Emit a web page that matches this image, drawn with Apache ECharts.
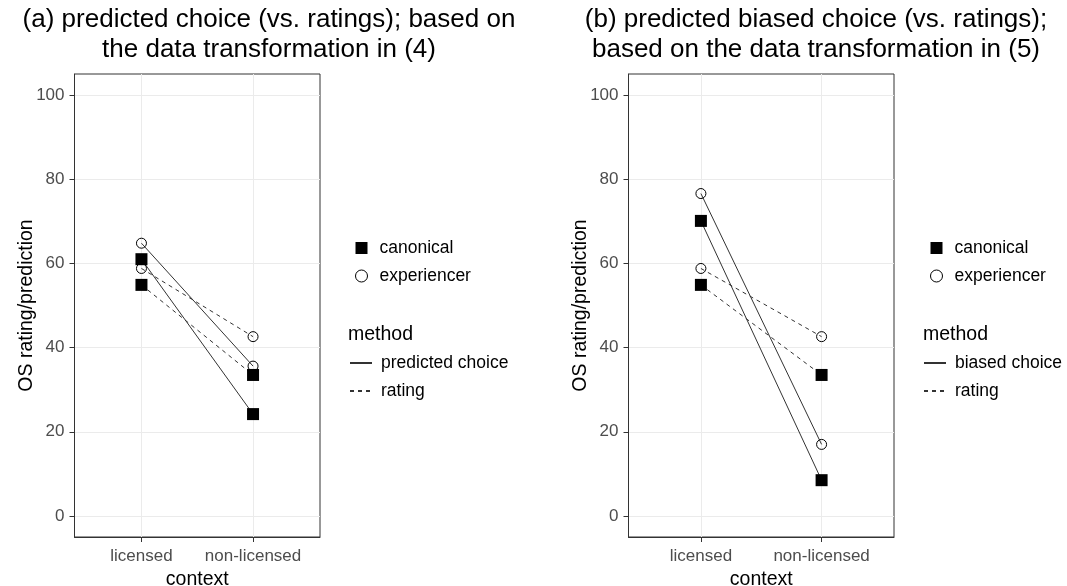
<!DOCTYPE html>
<html>
<head>
<meta charset="utf-8">
<script src="https://cdn.jsdelivr.net/npm/echarts@6/dist/echarts.min.js"></script>
<style>
  html, body { margin: 0; padding: 0; background: #fff; }
  #main { width: 1067px; height: 586px; }
</style>
</head>
<body>
<div id="main"></div>
<script>
// x categories and y ticks
var contexts = ['licensed', 'non-licensed'];
var yTicks = [0, 20, 40, 60, 80, 100];

// rating values (same in both panels)
var ratingCanonical = [54.9, 33.5];
var ratingExperiencer = [58.8, 42.6];

// (a) predicted choice
var predCanonical = [61.0, 24.2];
var predExperiencer = [64.8, 35.6];

// (b) predicted biased choice
var biasedCanonical = [70.1, 8.5];
var biasedExperiencer = [76.6, 17.0];

var font = 'Liberation Sans, Arial, sans-serif';

function pairs(values) {
    var out = [];
    for (var i = 0; i < values.length; i++) {
        out.push([i, values[i]]);
    }
    return out;
}

function xAxisFor(gridIndex) {
    return {
        type: 'value',
        gridIndex: gridIndex,
        min: -0.6,
        max: 1.6,
        name: 'context',
        nameLocation: 'middle',
        nameGap: 33,
        nameMoveOverlap: false,
        nameTextStyle: { fontSize: 19.5, color: '#000', fontFamily: font },
        axisLine: { show: true, onZero: false, lineStyle: { color: '#333', width: 1 } },
        axisTick: { show: true, length: 5, customValues: [0, 1], lineStyle: { color: '#333' } },
        axisLabel: {
            customValues: [0, 1],
            margin: 11,
            fontSize: 17,
            color: '#4d4d4d',
            fontFamily: font,
            formatter: function (v) { return contexts[Math.round(v)]; }
        },
        splitLine: { show: true, lineStyle: { color: '#ebebeb', width: 1 } }
    };
}

function yAxisFor(gridIndex) {
    return {
        type: 'value',
        gridIndex: gridIndex,
        min: -5,
        max: 105,
        name: 'OS rating/prediction',
        nameLocation: 'middle',
        nameGap: 38,
        nameMoveOverlap: false,
        nameTextStyle: { fontSize: 19.5, color: '#000', fontFamily: font },
        axisLine: { show: true, onZero: false, lineStyle: { color: '#333', width: 1 } },
        axisTick: { show: true, length: 5, customValues: yTicks, lineStyle: { color: '#333' } },
        axisLabel: { customValues: yTicks, margin: 10, fontSize: 17, color: '#4d4d4d', fontFamily: font },
        splitLine: { show: true, lineStyle: { color: '#ebebeb', width: 1 } }
    };
}

function lineSeries(name, values, idx, dashed) {
    return {
        name: name,
        type: 'line',
        xAxisIndex: idx,
        yAxisIndex: idx,
        data: pairs(values),
        symbol: 'none',
        color: '#333',
        lineStyle: { color: '#333', width: 1, type: dashed ? [4, 4] : 'solid' },
        z: 2
    };
}

function pointSeries(name, a, b, idx) {
    var isCanon = name === 'canonical';
    return {
        name: name,
        type: 'scatter',
        xAxisIndex: idx,
        yAxisIndex: idx,
        data: pairs(a).concat(pairs(b)),
        symbol: isCanon ? 'rect' : 'circle',
        symbolSize: isCanon ? 12 : 10,
        itemStyle: isCanon
            ? { color: '#000', opacity: 1 }
            : { color: 'rgba(0,0,0,0)', borderColor: '#000', borderWidth: 1, opacity: 1 },
        z: 3
    };
}

function shapeLegend(left) {
    return {
        orient: 'vertical',
        left: left,
        top: 239,
        padding: 0,
        itemWidth: 12,
        itemHeight: 12,
        itemGap: 10,
        data: [
            { name: 'canonical', itemStyle: { color: '#000', opacity: 1 } },
            { name: 'experiencer', itemStyle: { borderWidth: 1, borderColor: '#000', opacity: 1 } }
        ],
        textStyle: { fontSize: 17.5, color: '#000', fontFamily: font, padding: [0, 0, 0, 7] }
    };
}

function methodLegend(left, lineName) {
    return {
        orient: 'vertical',
        left: left,
        top: 354,
        padding: 0,
        itemWidth: 22,
        itemHeight: 12,
        itemGap: 10,
        data: [lineName, 'rating'],
        // hide the marker that ECharts puts in the middle of line icons
        itemStyle: { color: 'rgba(0,0,0,0)', borderColor: 'rgba(0,0,0,0)', borderWidth: 0 },
        textStyle: { fontSize: 17.5, color: '#000', fontFamily: font, padding: [0, 0, 0, 4] }
    };
}

var myChart = echarts.init(document.getElementById('main'));

var options = {
    animation: false,
    backgroundColor: '#fff',
    graphic: [
        {
            type: 'text', x: 269, y: 5,
            style: {
                text: '(a) predicted choice (vs. ratings); based on\nthe data transformation in (4)',
                textAlign: 'center', textVerticalAlign: 'top',
                fontSize: 26, fontFamily: font, lineHeight: 30, fill: '#000'
            }
        },
        {
            type: 'text', x: 816, y: 5,
            style: {
                text: '(b) predicted biased choice (vs. ratings);\nbased on the data transformation in (5)',
                textAlign: 'center', textVerticalAlign: 'top',
                fontSize: 26, fontFamily: font, lineHeight: 30, fill: '#000'
            }
        },
        {
            type: 'text', x: 348, y: 335,
            style: { text: 'method', textVerticalAlign: 'middle', fontSize: 19.5, fontFamily: font, fill: '#000' }
        },
        {
            type: 'text', x: 923, y: 335,
            style: { text: 'method', textVerticalAlign: 'middle', fontSize: 19.5, fontFamily: font, fill: '#000' }
        }
    ],
    legend: [
        shapeLegend(355),
        methodLegend(349, 'predicted choice'),
        shapeLegend(930),
        methodLegend(923, 'biased choice')
    ],
    grid: [
        { left: 74.5, right: 747, top: 74, bottom: 49, show: true, borderColor: '#333', borderWidth: 1, backgroundColor: '#fff', outerBoundsMode: 'none' },
        { left: 628.5, right: 173, top: 74, bottom: 49, show: true, borderColor: '#333', borderWidth: 1, backgroundColor: '#fff', outerBoundsMode: 'none' }
    ],
    xAxis: [xAxisFor(0), xAxisFor(1)],
    yAxis: [yAxisFor(0), yAxisFor(1)],
    series: [
        lineSeries('predicted choice', predCanonical, 0, false),
        lineSeries('predicted choice', predExperiencer, 0, false),
        lineSeries('rating', ratingCanonical, 0, true),
        lineSeries('rating', ratingExperiencer, 0, true),
        pointSeries('canonical', predCanonical, ratingCanonical, 0),
        pointSeries('experiencer', predExperiencer, ratingExperiencer, 0),

        lineSeries('biased choice', biasedCanonical, 1, false),
        lineSeries('biased choice', biasedExperiencer, 1, false),
        lineSeries('rating', ratingCanonical, 1, true),
        lineSeries('rating', ratingExperiencer, 1, true),
        pointSeries('canonical', biasedCanonical, ratingCanonical, 1),
        pointSeries('experiencer', biasedExperiencer, ratingExperiencer, 1)
    ]
};

myChart.setOption(options, true);
</script>
</body>
</html>
